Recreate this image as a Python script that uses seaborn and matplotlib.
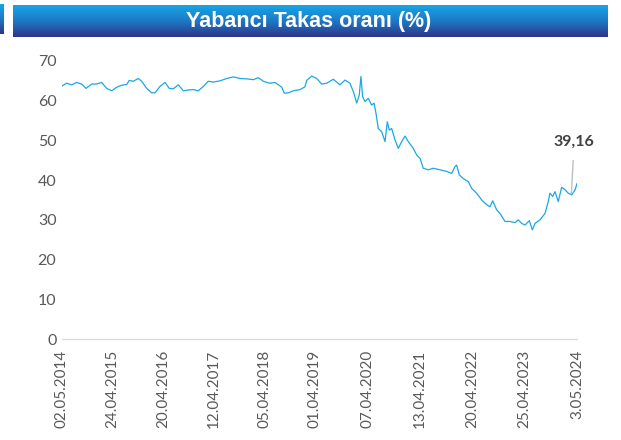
import numpy as np
import pandas as pd
import matplotlib
matplotlib.use("Agg")
import matplotlib.pyplot as plt
from matplotlib.colors import LinearSegmentedColormap
import seaborn as sns

# ---- data ----
dates = [
    "2014-05-02", "2014-06-04", "2014-07-10", "2014-08-14", "2014-09-19", "2014-10-19",
    "2014-11-29", "2015-01-03", "2015-02-07", "2015-03-15", "2015-04-20", "2015-05-25",
    "2015-06-30", "2015-08-04", "2015-08-22", "2015-09-20", "2015-10-25", "2015-11-18",
    "2015-12-24", "2016-01-28", "2016-02-21", "2016-03-27", "2016-05-02", "2016-06-01",
    "2016-06-30", "2016-08-04", "2016-09-09", "2016-10-14", "2016-11-19", "2016-12-24",
    "2017-01-29", "2017-03-05", "2017-04-09", "2017-05-27", "2017-07-14", "2017-08-29",
    "2017-10-16", "2017-12-02", "2018-01-18", "2018-02-23", "2018-03-30", "2018-05-17",
    "2018-06-21", "2018-07-15", "2018-08-08", "2018-08-26", "2018-09-24", "2018-10-29",
    "2018-12-16", "2019-01-20", "2019-02-01", "2019-03-09", "2019-04-13", "2019-05-19",
    "2019-06-23", "2019-08-09", "2019-09-25", "2019-10-31", "2019-12-05", "2019-12-29",
    "2020-01-22", "2020-02-09", "2020-02-21", "2020-03-04", "2020-03-21", "2020-04-13",
    "2020-05-07", "2020-05-24", "2020-06-07", "2020-06-23", "2020-07-17", "2020-08-10",
    "2020-08-26", "2020-09-09", "2020-09-26", "2020-10-20", "2020-11-12", "2020-12-06",
    "2020-12-30", "2021-01-22", "2021-02-26", "2021-03-23", "2021-04-15", "2021-05-08",
    "2021-06-13", "2021-07-18", "2021-09-04", "2021-10-21", "2021-11-26", "2021-12-19",
    "2021-12-31", "2022-01-19", "2022-02-16", "2022-03-24", "2022-04-17", "2022-05-22",
    "2022-06-27", "2022-08-01", "2022-08-25", "2022-09-13", "2022-10-11", "2022-11-04",
    "2022-12-09", "2023-01-14", "2023-02-18", "2023-03-13", "2023-04-07", "2023-04-30",
    "2023-05-31", "2023-06-21", "2023-07-10", "2023-08-14", "2023-09-19", "2023-10-12",
    "2023-10-24", "2023-11-13", "2023-11-29", "2023-12-22", "2024-01-15", "2024-02-08",
    "2024-03-02", "2024-03-26", "2024-04-19", "2024-05-03",
]
values = [
    63.7, 64.4, 64.0, 64.6, 64.2, 63.1,
    64.2, 64.2, 64.6, 63.1, 62.5, 63.4,
    63.9, 64.1, 65.1, 64.9, 65.6, 64.9,
    63.1, 62.0, 62.0, 63.6, 64.6, 63.1,
    63.0, 64.0, 62.5, 62.7, 62.8, 62.5,
    63.6, 64.9, 64.7, 65.0, 65.6, 66.0,
    65.6, 65.5, 65.3, 65.8, 64.9, 64.4,
    64.6, 64.0, 63.4, 61.9, 62.0, 62.5,
    62.8, 63.5, 65.1, 66.2, 65.6, 64.2,
    64.4, 65.4, 64.0, 65.2, 64.4, 62.3,
    59.4, 61.4, 66.1, 61.0, 59.8, 60.6,
    58.9, 59.4, 56.8, 53.0, 52.2, 49.7,
    54.7, 52.6, 53.0, 50.1, 48.0, 49.7,
    51.1, 49.7, 48.0, 46.3, 45.5, 43.0,
    42.6, 43.0, 42.6, 42.2, 41.7, 43.4,
    43.8, 41.3, 40.4, 39.6, 37.9, 36.7,
    35.0, 33.8, 33.3, 34.8, 32.5, 31.6,
    29.6, 29.6, 29.3, 30.0, 29.1, 28.7,
    29.8, 27.5, 29.1, 30.0, 31.6, 34.6,
    36.7, 35.9, 37.1, 34.6, 38.2, 37.6,
    36.7, 36.3, 37.5, 39.16,
]
tick_dates = ["2014-05-02", "2015-04-24", "2016-04-20", "2017-04-12", "2018-04-05",
              "2019-04-01", "2020-04-07", "2021-04-13", "2022-04-20", "2023-04-25",
              "2024-05-03"]
tick_labels = ["02.05.2014", "24.04.2015", "20.04.2016", "12.04.2017", "05.04.2018",
               "01.04.2019", "07.04.2020", "13.04.2021", "20.04.2022", "25.04.2023",
               "3.05.2024"]
y_ticks = [0, 10, 20, 30, 40, 50, 60, 70]
title = "Yabancı Takas oranı (%)"
last_label = "39,16"

df = pd.DataFrame({"tarih": pd.to_datetime(dates), "oran": values})

# ---- style ----
sns.set_style("white")
plt.rcParams["font.family"] = ["Lato", "DejaVu Sans"]

fig = plt.figure(figsize=(6.21, 4.40), dpi=100)
W, H = 621, 440

ax = fig.add_axes([62 / W, 1 - 339 / H, (577 - 62) / W, (339 - 61) / H])
sns.lineplot(data=df, x="tarih", y="oran", ax=ax, color="#1AA8E6", linewidth=0.9)

ax.set_ylim(0, 70)
ax.set_xlim(df["tarih"].iloc[0], df["tarih"].iloc[-1])
ax.set_yticks(y_ticks)
ax.set_yticklabels([str(v) for v in y_ticks], fontsize=11.5, color="#595959")
ax.set_xticks(pd.to_datetime(tick_dates))
ax.set_xticklabels(tick_labels, rotation=90, fontsize=11, color="#595959")
ax.tick_params(axis="both", length=0)
ax.tick_params(axis="y", pad=4)
ax.tick_params(axis="x", pad=8)
ax.set_xlabel("")
ax.set_ylabel("")
for s in ["top", "right", "left"]:
    ax.spines[s].set_visible(False)
ax.spines["bottom"].set_color("#D9D9D9")
ax.spines["bottom"].set_linewidth(0.9)

# last value label
last_x = df["tarih"].iloc[-1]
ax.annotate(last_label, xy=(last_x - pd.Timedelta(days=40), 36.6),
            xytext=(last_x - pd.Timedelta(days=20), 49.6),
            ha="center", va="center", fontsize=11.5, fontweight="bold",
            color="#404040",
            arrowprops=dict(arrowstyle="-", color="#BFBFBF", lw=1.0,
                            shrinkA=6, shrinkB=0),
            annotation_clip=False)

# ---- title banner ----
bax = fig.add_axes([13 / W, 1 - 37 / H, (608 - 13) / W, 32 / H])
grad = np.linspace(0, 1, 64).reshape(-1, 1)
cmap = LinearSegmentedColormap.from_list("ban", ["#16A6E4", "#1E78C4", "#2E3589"])
bax.imshow(grad, aspect="auto", cmap=cmap, extent=[0, 1, 0, 1], origin="upper")
bax.set_axis_off()
bax.text(0.497, 0.48, title, ha="center", va="center", color="white",
         fontsize=15.5, fontweight="bold", family=["Liberation Sans", "DejaVu Sans"],
         transform=bax.transAxes)

# small logo sliver at left edge
lax = fig.add_axes([0, 1 - 34 / H, 4 / W, 30 / H])
lax.imshow(grad, aspect="auto", cmap=cmap, extent=[0, 1, 0, 1], origin="upper")
lax.set_axis_off()

fig.savefig("out.png", dpi=100)
